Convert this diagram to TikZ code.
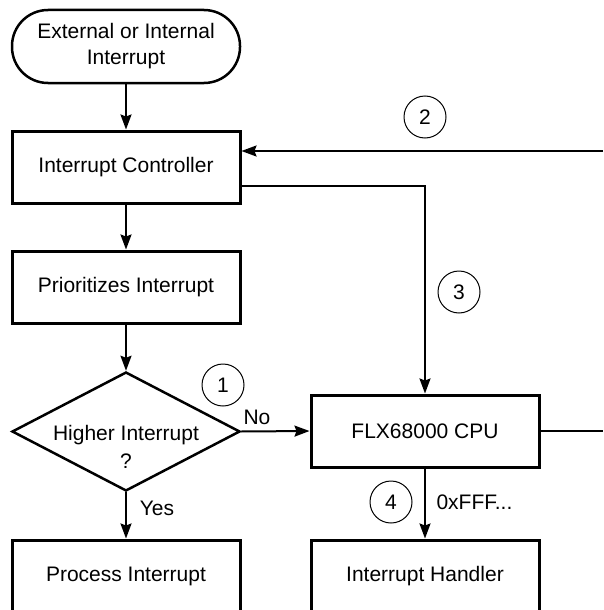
\documentclass[tikz,border=0pt]{standalone}
\usepackage{fontspec}
\setmainfont{Liberation Sans}
\usetikzlibrary{arrows.meta,shapes.geometric}
\begin{document}
\begin{tikzpicture}[x=1pt,y=-1pt,
  every node/.style={font=\fontsize{21}{26}\selectfont},
  box/.style={draw,line width=3pt,minimum width=228pt,minimum height=72pt,inner sep=0pt},
  term/.style={draw,line width=2.5pt,rounded corners=36pt,minimum width=228pt,minimum height=73pt,inner sep=0pt,align=center},
  decide/.style={draw,diamond,line width=2.5pt,minimum width=228pt,minimum height=119pt,inner sep=0pt},
  step num/.style={draw,circle,line width=1pt,minimum size=42pt,inner sep=0pt},
  arr/.style={line width=2pt,-{Stealth[length=15pt,width=11pt,inset=2pt]}},
  wire/.style={line width=2pt}]
  \useasboundingbox (0,0) rectangle (603,610);
  \clip (0,0) rectangle (603,610);

  % left column
  \node[term] (src) at (126,46.5) {External or Internal\\Interrupt};
  \node[box] (ic) at (126,167) {Interrupt Controller};
  \node[box] (prio) at (126,287) {Prioritizes Interrupt};
  \node[decide] (hi) at (126,431.5) {};
  \node[align=center,font=\fontsize{21}{28}\selectfont] (hitext) at (126,447) {Higher Interrupt\\?};
  \node[box] (proc) at (126,576) {Process Interrupt};

  % right column
  \node[box] (cpu) at (425,431) {FLX68000 CPU};
  \node[box] (hdl) at (425,576) {Interrupt Handler};

  % numbered markers
  \node[step num] (n1) at (223,385) {1};
  \node[step num] (n2) at (425,117) {2};
  \node[step num] (n3) at (459,292) {3};
  \node[step num] (n4) at (391,502) {4};

  % labels
  \node (no) at (257,417) {No};
  \node (yes) at (157,508) {Yes};
  \node[anchor=west] (addr) at (433,502) {0xFFF...};

  % free ends at the right margin
  \coordinate (ext2) at (603,151);
  \coordinate (ext5) at (603,431);
  \coordinate (ic3) at (240,186);

  % connectors
  \draw[arr] (src) -- (ic);
  \draw[arr] (ic) -- (prio);
  \draw[arr] (prio) -- (hi.north);
  \draw[arr] (hi.south) -- (proc);
  \draw[arr] (hi.east) -- (cpu.west);
  \draw[arr] (ext2) -- (ext2 -| ic.east);
  \draw[arr] (ic3) -| (cpu.north);
  \draw[wire] (cpu.east) -- (ext5);
  \draw[arr] (cpu) -- (hdl);
\end{tikzpicture}
\end{document}
